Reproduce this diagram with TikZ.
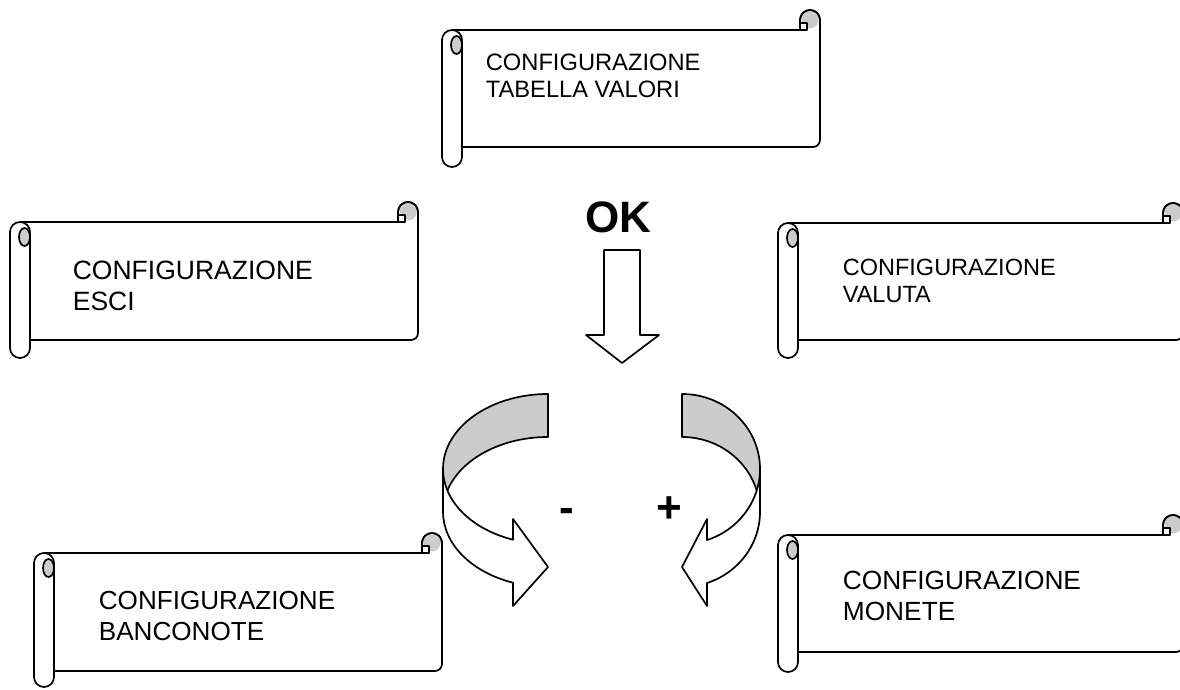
\documentclass[tikz,border=0pt]{standalone}
\usepackage{fontspec}
\setmainfont{Liberation Sans}

% scroll banner: left x, right x, top y, body bottom y, roll bottom y
\newcommand{\scrollbox}[5]{%
  \draw[fill=white] ({#1+10},{#3-20}) -- ({#2-20},{#3-20}) -- ({#2-20},{#3-10})
    arc[start angle=180,end angle=0,radius=10pt] -- (#2,{#4+7})
    arc[start angle=0,end angle=-90,radius=7pt] -- ({#1+10},#4) -- cycle;
  \fill[gray!40] ({#2-10},{#3-10}) circle[radius=8.5pt];
  \draw[fill=white] ({#2-20},{#3-20}) rectangle ({#2-13},{#3-13});
  \draw ({#2-20},{#3-10}) arc[start angle=180,end angle=0,radius=10pt];
  \draw[fill=white] (#1,{#5+10}) -- (#1,{#3-30})
    arc[start angle=180,end angle=0,radius=10pt] -- ({#1+20},{#5+10})
    arc[start angle=0,end angle=-180,radius=10pt] -- cycle;
  \draw[fill=gray!40] ({#1+14.5},{#3-35}) ellipse[x radius=5.5pt,y radius=9pt];
}

\begin{document}
\begin{tikzpicture}[x=1pt,y=1pt,line width=1.7pt,line join=round,
  scrolltext/.style={anchor=north west,inner sep=0pt,align=left},
  sign/.style={anchor=base,inner sep=0pt,font=\bfseries\fontsize{44}{44}\selectfont}]
  \useasboundingbox (0,0) rectangle (1180,689);

  % banners
  \scrollbox{442}{820}{679}{542}{522}
  \scrollbox{10}{418}{487}{349}{331}
  \scrollbox{778}{1183}{486}{349}{331}
  \scrollbox{34}{442}{156}{18}{2}
  \scrollbox{778}{1183}{174}{37}{17}

  \node[scrolltext,font=\fontsize{23.7}{27}\selectfont] (tab) at (485,636) {CONFIGURAZIONE\\TABELLA VALORI};
  \node[scrolltext,font=\fontsize{26.5}{31}\selectfont] (esc) at (72,429) {CONFIGURAZIONE\\ESCI};
  \node[scrolltext,font=\fontsize{23.5}{27}\selectfont] (val) at (842,431) {CONFIGURAZIONE\\VALUTA};
  \node[scrolltext,font=\fontsize{26.1}{31}\selectfont] (ban) at (98,99) {CONFIGURAZIONE\\BANCONOTE};
  \node[scrolltext,font=\fontsize{26.3}{31}\selectfont] (mon) at (842,119) {CONFIGURAZIONE\\MONETE};

  % OK and down arrow
  \node[sign] (ok) at (618,456) {OK};
  \draw[fill=white] (604,439) -- (640,439) -- (640,354) -- (659,354) -- (622,326)
    -- (586,354) -- (604,354) -- cycle;

  % turning arrows
  \draw[fill=gray!40] (548,295) arc[start angle=90,end angle=180,x radius=105pt,y radius=75pt]
    -- ++(0,-43) arc[start angle=180,end angle=90,x radius=105pt,y radius=75pt] -- cycle;
  \draw[fill=white] (443,220) arc[start angle=180,end angle=250.5,x radius=105pt,y radius=75pt]
    -- (513,170) -- (548,122) -- (513,83) -- (513,106.3)
    arc[start angle=250.5,end angle=180,x radius=105pt,y radius=75pt] -- cycle;

  \draw[fill=gray!40] (682,295) arc[start angle=90,end angle=0,x radius=78pt,y radius=75pt]
    -- ++(0,-43) arc[start angle=0,end angle=90,x radius=78pt,y radius=75pt] -- cycle;
  \draw[fill=white] (760,220) arc[start angle=0,end angle=-71.3,x radius=78pt,y radius=75pt]
    -- (707,170) -- (682,122) -- (707,83) -- (707,106)
    arc[start angle=-71.3,end angle=0,x radius=78pt,y radius=75pt] -- cycle;

  \node[sign] (minus) at (567,167) {-};
  \node[sign] (plus) at (669.5,167) {+};
\end{tikzpicture}
\end{document}
